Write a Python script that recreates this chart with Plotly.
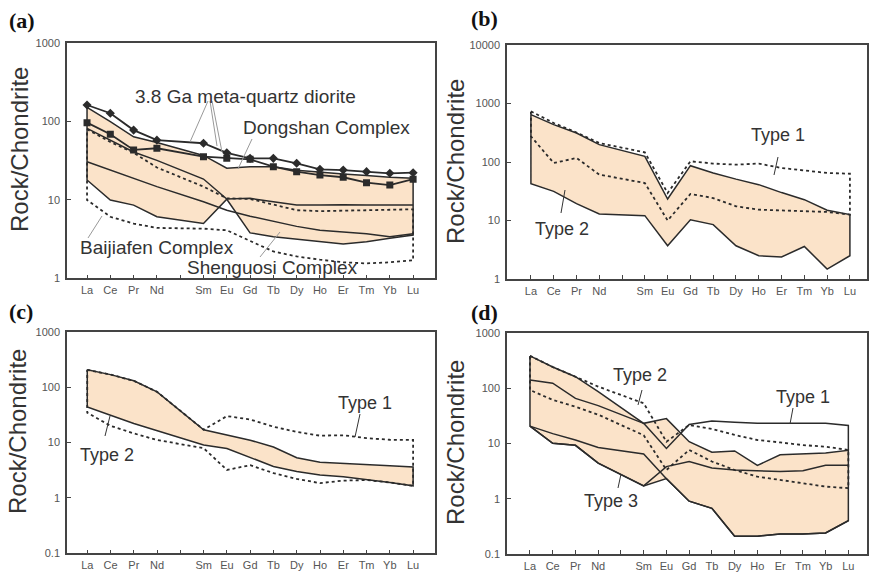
import plotly.graph_objects as go

W, H = 869, 573

# ---------------- data ----------------
ree = ["La", "Ce", "Pr", "Nd", "Sm", "Eu", "Gd", "Tb", "Dy", "Ho", "Er", "Tm", "Yb", "Lu"]
tick_labels = ["La", "Ce", "Pr", "Nd", "", "Sm", "Eu", "Gd", "Tb", "Dy", "Ho", "Er", "Tm", "Yb", "Lu"]

# (a)
a_qd_diamond = [163, 128, 78, 58, 53, 40, 34, 34, 29.4, 24.6, 24.1, 23, 21.9, 22.3]
a_qd_square = [97, 69, 43.5, 45.7, 35.7, 34, 33, 26.6, 23, 20.8, 19.5, 16.6, 15.5, 18.4]
a_dongshan_top = [152, 100, 64, 54, 37, 25.4, 26.6, 26.6, 24, 22.5, 21.5, 20.5, 19.5, 19]
a_dongshan_low = [82, 58, 41, 32, 18.5, 10.3, 10.5, 9.5, 8.6, 8.6, 8.7, 8.6, 8.6, 8.6]
a_baijiafen_up = [30.8, 24, 18.9, 14.8, 9.5, 7.4, 6.2, 5.3, 4.6, 4.1, 3.9, 3.7, 3.4, 3.7]
a_baijiafen_low = [18, 10, 8.6, 6.1, 5.0, 10.2]            # La..Eu
a_shenguosi_low = [10.2, 3.8, 3.4, 3.15, 2.93, 2.74, 2.93, 3.24, 3.57]  # Eu..Lu
a_dot_up = [80, 55, 40, 26, 14.8, 10.5, 10.3, 8.8, 7.4, 7.2, 7.3, 7.4, 7.5, 7.6]
a_dot_low = [10, 6.1, 5.0, 4.4, 4.3, 4.1, 3.0, 2.2, 1.9, 1.73, 1.6, 1.55, 1.6, 1.7]

# (b)
b_env_up = [644, 435, 313, 198, 125, 23.3, 86.5, 65, 51, 41, 30, 22.7, 15, 12.6]
b_env_low = [42.6, 31.5, 19.4, 12.9, 12.1, 3.7, 10.3, 8.5, 3.7, 2.5, 2.38, 3.6, 1.48, 2.5]
b_dot_up = [735, 464, 320, 211, 146, 29.5, 103, 94, 90, 94, 79, 72, 65, 63]
b_dot_low = [275, 96, 117, 61, 43.7, 10, 28.4, 24.2, 17.5, 15.3, 14.9, 14.4, 14, 12.6]

# (c)
c_env_up = [205, 168, 130, 82, 17, 13.6, 11, 8.3, 5.3, 4.4, 4.2, 4.1, 3.8, 3.6]
c_env_low = [44, 31, 22, 16, 9, 7.8, 5.3, 3.7, 3.0, 2.6, 2.4, 2.15, 1.9, 1.65]
c_dot_up = [205, 168, 130, 82, 17, 30, 26, 19.3, 15.5, 13.3, 13.5, 12, 11.2, 11.1]
c_dot_low = [34.5, 20, 14.6, 11.1, 7.9, 3.2, 3.9, 2.8, 2.2, 1.85, 2.05, 2.1, 1.9, 1.65]

# (d)
d_top = [380, 240, 160, 86, 23, 28, 10.7, 6.9, 7.3, 4.0, 6.2, 6.5, 6.7, 7.5]
d_type1_top = [23, 8.1, 22, 25.4, 24, 23, 23, 23, 23, 21]   # Sm..Lu
d_mid = [140, 122, 65, 48, 23]                              # La..Sm
d_s3 = [20.5, 10, 9.2, 4.4, 1.7, 3.8, 4.7, 3.6, 3.3, 3.2, 3.1, 3.2, 4.0, 4.0]
d_s4 = [20.5, 15, 11.5, 8.4, 6.4, 2.3, 0.9, 0.67, 0.21, 0.21, 0.23, 0.23, 0.24, 0.4]
d_dot_up = [383, 240, 160, 106, 53, 10.7, 21.5, 18.2, 14.2, 11.5, 10.4, 9.3, 8.7, 7.6]
d_dot_low = [92, 61, 46, 33, 14, 3.3, 7.6, 4.7, 3.3, 2.5, 2.2, 1.9, 1.65, 1.55]

# ---------------- helpers ----------------
xpos = [tick_labels.index(e) + 1 for e in ree]
LINE = "#2b2b2b"
FILL = "#FBE3C9"

fig = go.Figure()


def add_fill(ax, xs, top, bottom):
    fig.add_trace(go.Scatter(
        x=list(xs) + list(xs)[::-1], y=list(top) + list(bottom)[::-1],
        mode="lines", fill="toself", fillcolor=FILL, line=dict(width=0),
        xaxis="x" + ax, yaxis="y" + ax, hoverinfo="skip", showlegend=False))


def add_line(ax, xs, ys, dash="solid", width=1.5, color=LINE, marker=None):
    kw = dict(x=list(xs), y=list(ys), xaxis="x" + ax, yaxis="y" + ax,
              line=dict(color=color, width=width, dash=dash),
              hoverinfo="skip", showlegend=False)
    if marker:
        kw["mode"] = "lines+markers"
        kw["marker"] = dict(symbol=marker[0], size=marker[1], color=LINE)
    else:
        kw["mode"] = "lines"
    fig.add_trace(go.Scatter(**kw))


def closed(xs, top, bottom):
    x = list(xs) + list(xs)[::-1] + [xs[0]]
    y = list(top) + list(bottom)[::-1] + [top[0]]
    return x, y


# ---------------- panel (a) ----------------
a_bottom = a_baijiafen_low + a_shenguosi_low[1:]
add_fill("", xpos, a_dongshan_top, a_bottom)
x_, y_ = closed(xpos, a_dot_up, a_dot_low)
add_line("", x_, y_, dash="dot", width=1.8)
x_, y_ = closed(xpos, a_dongshan_top, a_bottom)
add_line("", x_, y_)
add_line("", xpos, a_dongshan_low)
add_line("", xpos, a_baijiafen_up)
add_line("", xpos, a_qd_square, width=1.8, marker=("square", 7))
add_line("", xpos, a_qd_diamond, width=1.8, marker=("diamond", 7))

# ---------------- panel (b) ----------------
add_fill("2", xpos, b_env_up, b_env_low)
x_, y_ = closed(xpos, b_dot_up, b_dot_low)
add_line("2", x_, y_, dash="dot", width=1.8)
x_, y_ = closed(xpos, b_env_up, b_env_low)
add_line("2", x_, y_)

# ---------------- panel (c) ----------------
add_fill("3", xpos, c_env_up, c_env_low)
x_, y_ = closed(xpos, c_dot_up, c_dot_low)
add_line("3", x_, y_, dash="dot", width=1.8)
x_, y_ = closed(xpos, c_env_up, c_env_low)
add_line("3", x_, y_)

# ---------------- panel (d) ----------------
d_bottom = [min(p, q) for p, q in zip(d_s3, d_s4)]
add_fill("4", xpos, d_top, d_bottom)
x_, y_ = closed(xpos, d_dot_up, d_dot_low)
add_line("4", x_, y_, dash="dot", width=1.8)
x_, y_ = closed(xpos, d_top, d_bottom)
add_line("4", x_, y_)
add_line("4", xpos[4:] + [xpos[-1]], d_type1_top + [d_top[-1]])
add_line("4", xpos[:5], d_mid)
add_line("4", xpos, d_s3)
add_line("4", xpos, d_s4)

# ---------------- axes ----------------
TICKFONT = dict(family="Liberation Sans, Arial, sans-serif", size=11, color="#555")


def xcfg(x0, x1, rng, anchor):
    return dict(domain=[x0 / W, x1 / W], range=rng, anchor=anchor,
                tickmode="array", tickvals=list(range(1, 16)), ticktext=tick_labels,
                ticks="inside", ticklen=4, tickwidth=1, tickcolor="#444",
                showline=True, mirror=True, linecolor="#444", linewidth=1.5,
                showgrid=False, zeroline=False, tickfont=TICKFONT,
                ticklabelstandoff=1, fixedrange=True)


def ycfg(ytop, ybot, lo, hi, anchor):
    vals = [10 ** k for k in range(lo, hi + 1)]
    txt = ["0.1" if v < 1 else str(int(v)) for v in vals]
    return dict(domain=[1 - ybot / H, 1 - ytop / H], type="log", range=[lo, hi],
                anchor=anchor, tickmode="array", tickvals=vals, ticktext=txt,
                ticks="inside", ticklen=4, tickwidth=1, tickcolor="#444",
                showline=True, mirror=True, linecolor="#444", linewidth=1.5,
                showgrid=False, zeroline=False,
                tickfont=dict(family="Liberation Sans, Arial, sans-serif", size=11, color="#555"),
                ticklabelstandoff=3, fixedrange=True)


fig.update_layout(
    width=W, height=H, margin=dict(l=0, r=0, t=0, b=0),
    template="none", paper_bgcolor="white", plot_bgcolor="rgba(0,0,0,0)",
    showlegend=False,
    xaxis=xcfg(67, 435, [0.14, 15.94], "y"),
    yaxis=ycfg(43.3, 278.3, 0, 3, "x"),
    xaxis2=xcfg(507, 867, [-0.05, 15.75], "y2"),
    yaxis2=ycfg(45, 279, 0, 4, "x2"),
    xaxis3=xcfg(67, 435, [0.13, 15.94], "y3"),
    yaxis3=ycfg(331.7, 553.3, -1, 3, "x3"),
    xaxis4=xcfg(507, 867, [-0.01, 15.82], "y4"),
    yaxis4=ycfg(332.7, 554, -1, 3, "x4"),
)

# ---------------- text & pointers ----------------
def P(px, py):
    return px / W, 1 - py / H


annots = []


def text(s, cx, cy, size=18, angle=0, family="Liberation Sans, Arial, sans-serif",
         color="#333", bold=False):
    x, y = P(cx, cy)
    annots.append(dict(text=("<b>%s</b>" % s) if bold else s, x=x, y=y,
                       xref="paper", yref="paper", xanchor="center", yanchor="middle",
                       showarrow=False, textangle=angle,
                       font=dict(family=family, size=size, color=color)))


shapes = []


def pointer(x0, y0, x1, y1, color="#555", width=1):
    a0, b0 = P(x0, y0)
    a1, b1 = P(x1, y1)
    shapes.append(dict(type="line", xref="paper", yref="paper", x0=a0, y0=b0,
                       x1=a1, y1=b1, line=dict(color=color, width=width)))


SERIF = "Liberation Serif, Times New Roman, serif"
text("(a)", 22, 21, size=22, family=SERIF, color="#111", bold=True)
text("(b)", 484, 18, size=22, family=SERIF, color="#111", bold=True)
text("(c)", 21, 311, size=22, family=SERIF, color="#111", bold=True)
text("(d)", 484, 312, size=22, family=SERIF, color="#111", bold=True)

for cx, cy in [(20, 150), (456, 162), (17, 432), (456, 443)]:
    text("Rock/Chondrite", cx, cy, size=24, angle=-90)

# panel a labels
text("3.8 Ga meta-quartz diorite", 245, 97, size=19)
text("Dongshan Complex", 326, 128, size=19)
text("Baijiafen Complex", 157, 247, size=19)
text("Shenguosi Complex", 272, 267, size=19)
pointer(208, 101, 190, 142, color="#999")
pointer(210, 101, 217, 146, color="#999")
pointer(212, 101, 222, 152, color="#999")
pointer(252, 139, 238, 169, color="#999")
pointer(88, 238, 102, 216, color="#999")
pointer(260, 257, 280, 232, color="#999")

# panel b labels
text("Type 1", 778, 135, size=18)
text("Type 2", 562, 229, size=18)
pointer(778, 157, 774, 175, color="#333")
pointer(561, 213, 565, 190, color="#333")

# panel c labels
text("Type 1", 365, 403, size=18)
text("Type 2", 107, 455, size=18)
pointer(360, 414, 355, 437, color="#333")
pointer(105, 436, 110, 416, color="#333")

# panel d labels
text("Type 2", 640, 375, size=18)
text("Type 1", 803, 397, size=18)
text("Type 3", 611, 501, size=18)
pointer(642, 390, 638, 405, color="#333")
pointer(793, 408, 790, 424, color="#333")
pointer(618, 488, 621, 474, color="#333")

fig.update_layout(annotations=annots, shapes=shapes)

fig.write_html("out.html")
